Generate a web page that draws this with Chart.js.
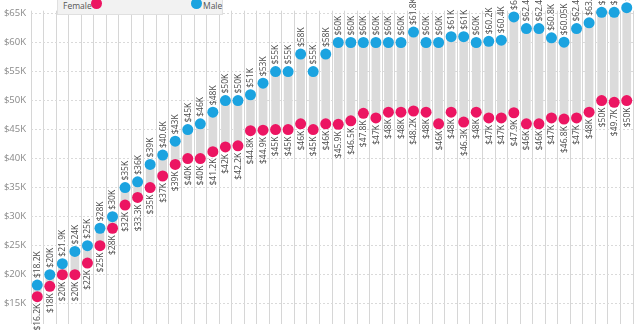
<!DOCTYPE html>
<html>
<head>
<meta charset="utf-8">
<script src="https://cdn.jsdelivr.net/npm/chart.js@4.4.1/dist/chart.umd.min.js"></script>
<style>
  html, body { margin: 0; padding: 0; background: #fff; }
  #wrap { position: relative; width: 640px; height: 335px; overflow: hidden; }
  #legend { position: absolute; left: 57px; top: -10px; width: 166px; height: 25px;
    background: #f2f2f2; border: 1px solid #e0e0e0; box-sizing: border-box;
    font-family: "Open Sans", sans-serif; font-size: 8.5px; color: #555; }
  #legend span { position: absolute; top: 9px; line-height: 11px; }
  #legend i { position: absolute; top: 7px; width: 11px; height: 11px; border-radius: 50%; }
</style>
</head>
<body>
<div id="wrap">
  <canvas id="myChart" width="640" height="335"></canvas>
  <div id="legend">
    <span style="left:5px">Female</span>
    <i style="left:33px;background:#ec1562"></i>
    <i style="left:133px;background:#1ba3e0"></i>
    <span style="left:145px">Male</span>
  </div>
</div>
<script>
// salaries in $K, one entry per column, left to right
var femaleSalary = [16.2, 18, 20, 20, 22, 25, 28, 32, 33.3, 35, 37, 39, 40, 40, 41.2, 42,
  42.2, 44.8, 44.9, 45, 45, 46, 45, 46, 45.9, 46.5, 47.8, 47, 48, 48, 48.2, 48,
  46, 48, 46.3, 48, 47, 47, 47.9, 46, 46, 47, 46.8, 47, 48, 50, 49.7, 50];
var maleSalary = [18.2, 20, 21.9, 24, 25, 28, 30, 35, 36, 39, 40.6, 43, 45, 46, 48, 50,
  50, 51, 53, 55, 55, 58, 55, 58, 60, 60, 60, 60, 60, 60, 61.8, 60,
  60, 61, 61, 60, 60.2, 60.4, 64.4, 62.4, 62.4, 60.8, 60.05, 62.4, 63.4, 65.2, 65.2, 66];
var categories = femaleSalary.map(function (v, i) { return 'Job ' + (i + 1); });
var yTicks = [15, 20, 25, 30, 35, 40, 45, 50, 55, 60, 65];

var pink = '#ec1562';
var blue = '#1ba3e0';

function money(v) { return '$' + v + 'K'; }

// rotated value labels: male above its dot, female below its dot
var valueLabels = {
  id: 'valueLabels',
  afterDatasetsDraw: function (chart) {
    var ctx = chart.ctx;
    var fem = chart.getDatasetMeta(1).data;
    var mal = chart.getDatasetMeta(2).data;
    ctx.save();
    ctx.font = '8.5px "Open Sans", sans-serif';
    ctx.fillStyle = '#4a4a4a';
    ctx.textBaseline = 'middle';
    for (var i = 0; i < categories.length; i++) {
      ctx.save();
      ctx.translate(mal[i].x, mal[i].y);
      ctx.rotate(-Math.PI / 2);
      ctx.textAlign = 'left';
      ctx.fillText(money(maleSalary[i]), 7, 0.5);
      ctx.restore();

      ctx.save();
      ctx.translate(fem[i].x, fem[i].y);
      ctx.rotate(-Math.PI / 2);
      ctx.textAlign = 'right';
      ctx.fillText(money(femaleSalary[i]), -7, 0.5);
      ctx.restore();
    }
    ctx.restore();
  }
};

var ctx = document.getElementById('myChart').getContext('2d');
var myChart = new Chart(ctx, {
  type: 'bar',
  data: {
    labels: categories,
    datasets: [{
      label: 'gap',
      data: femaleSalary.map(function (f, i) { return [f, maleSalary[i]]; }),
      backgroundColor: '#dbdbdb',
      barThickness: 8,
      borderSkipped: false,
      order: 3
    }, {
      type: 'line',
      label: 'Female',
      data: femaleSalary,
      showLine: false,
      pointRadius: 5.5,
      pointBackgroundColor: pink,
      pointBorderWidth: 0,
      clip: false,
      order: 1
    }, {
      type: 'line',
      label: 'Male',
      data: maleSalary,
      showLine: false,
      pointRadius: 5.5,
      pointBackgroundColor: blue,
      pointBorderWidth: 0,
      clip: false,
      order: 0
    }]
  },
  options: {
    responsive: false,
    animation: false,
    layout: { padding: { left: 0, right: 7, top: 0, bottom: 0 } },
    plugins: { legend: { display: false }, tooltip: { enabled: false } },
    scales: {
      x: {
        offset: true,
        grid: { color: '#d6d6d6', offset: true, drawTicks: false },
        border: { display: false },
        ticks: { display: false },
        afterFit: function (s) { s.height = 0; }
      },
      y: {
        min: 11.45,
        max: 65.48,
        grid: { color: '#dadada', drawTicks: false },
        border: { display: false, dash: [2, 2] },
        afterBuildTicks: function (s) {
          s.ticks = yTicks.map(function (v) { return { value: v }; });
        },
        ticks: {
          padding: 5,
          color: '#888',
          font: { family: 'Open Sans', size: 9.5 },
          callback: function (v) { return money(v); }
        },
        afterFit: function (s) { s.width = 31; }
      }
    }
  },
  plugins: [valueLabels]
});
</script>
</body>
</html>
